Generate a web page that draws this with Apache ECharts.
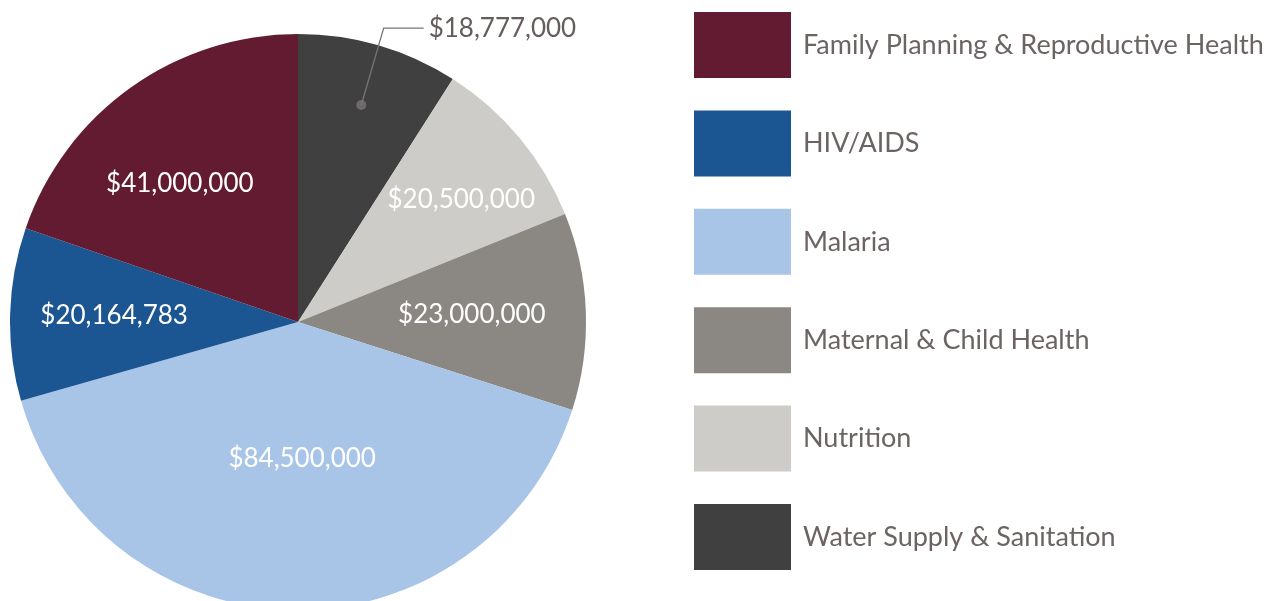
<!DOCTYPE html>
<html>
<head>
<meta charset="utf-8">
<script src="https://cdn.jsdelivr.net/npm/echarts@6/dist/echarts.min.js"></script>
<style>
  html, body { margin: 0; padding: 0; background: #ffffff; }
  #chart { width: 1274px; height: 601px; }
</style>
</head>
<body>
<div id="chart"></div>
<script>
// ---- data ----
const categories = [
  'Family Planning & Reproductive Health',
  'HIV/AIDS',
  'Malaria',
  'Maternal & Child Health',
  'Nutrition',
  'Water Supply & Sanitation'
];
const values = [41000000, 20164783, 84500000, 23000000, 20500000, 18777000];

// ---- styles ----
const colors = ['#621B31', '#1B5592', '#A8C5E7', '#8B8782', '#CDCCC8', '#404040'];
// inside-label placement: distance from centre (px) and angular nudge (deg)
const labelRadius = [182, 184, 137, 174, 204, 0];
const labelAngleNudge = [-5, 0.4, -2.7, -0.2, 2.9, 0];
const outsideLabel = [false, false, false, false, false, true];
const CX = 298, CY = 322, R = 288;
const LEADER_R = 0.785; // where the leader line of the outside label starts
const FONT = 'Lato, "Open Sans", sans-serif';
const textGray = '#6b6462';
const leaderGray = '#7a7474';

const fmt = v => '$' + v.toLocaleString('en-US');

// pie is drawn clockwise from 12 o'clock in reverse legend order
const order = categories.map((_, i) => i).reverse();
const total = values.reduce((a, b) => a + b, 0);
// mid angle (deg, clockwise from 12 o'clock) of each slice, from the data
const midAngle = {};
(function () {
  let acc = 0;
  order.forEach(i => {
    midAngle[i] = (acc + values[i] / 2) / total * 360;
    acc += values[i];
  });
})();
const outsideIdx = outsideLabel.indexOf(true);
let outsideMidValue = 0;
for (const i of order) {
  if (i === outsideIdx) { outsideMidValue += values[i] / 2; break; }
  outsideMidValue += values[i];
}

const mainData = order.map(i => ({
  name: categories[i],
  value: values[i],
  itemStyle: { color: colors[i] },
  label: { show: !outsideLabel[i] }
}));
const overlayData = order.map(i => ({
  name: categories[i],
  value: values[i],
  itemStyle: { color: 'rgba(0,0,0,0)' },
  label: { show: outsideLabel[i] },
  labelLine: { show: outsideLabel[i] }
}));

const chart = echarts.init(document.getElementById('chart'), null, { renderer: 'canvas' });
chart.setOption({
  animation: false,
  backgroundColor: '#ffffff',
  polar: { center: [CX, CY], radius: R },
  angleAxis: { type: 'value', min: 0, max: total, startAngle: 90, clockwise: true, show: false },
  radiusAxis: { type: 'value', min: 0, max: 1, show: false },
  legend: {
    orient: 'vertical',
    left: 694,
    top: 12,
    padding: 0,
    itemWidth: 97,
    itemHeight: 66,
    itemGap: 32.4,
    icon: 'rect',
    data: categories,
    selectedMode: false,
    textStyle: { fontSize: 27, color: textGray, fontFamily: FONT, padding: [0, 0, 0, 7] }
  },
  series: [
    {
      type: 'pie',
      z: 2,
      center: [CX, CY],
      radius: R,
      startAngle: 90,
      clockwise: true,
      avoidLabelOverlap: false,
      silent: true,
      emphasis: { disabled: true },
      itemStyle: { borderWidth: 0 },
      data: mainData,
      label: {
        position: 'inside',
        color: '#ffffff',
        fontSize: 26,
        fontFamily: FONT,
        formatter: p => fmt(p.value)
      },
      labelLine: { show: false },
      labelLayout: function (p) {
        const idx = order[p.dataIndex];
        const a = (midAngle[idx] + labelAngleNudge[idx]) * Math.PI / 180;
        const r = labelRadius[idx];
        return { x: CX + r * Math.sin(a), y: CY - r * Math.cos(a) };
      }
    },
    {
      type: 'pie',
      z: 5,
      zlevel: 1,
      center: [CX, CY],
      radius: R * LEADER_R,
      startAngle: 90,
      clockwise: true,
      avoidLabelOverlap: false,
      silent: true,
      emphasis: { disabled: true },
      data: overlayData,
      label: {
        position: 'outside',
        color: '#645d5b',
        fontSize: 26,
        fontFamily: FONT,
        formatter: p => fmt(p.value)
      },
      labelLine: {
        length: 80,
        length2: 40,
        z: 10,
        lineStyle: { color: leaderGray, width: 1.3 }
      }
    },
    {
      type: 'scatter',
      z: 6,
      zlevel: 1,
      coordinateSystem: 'polar',
      silent: true,
      symbol: 'circle',
      symbolSize: 10,
      itemStyle: { color: leaderGray },
      data: [[LEADER_R, outsideMidValue]]
    }
  ]
});
</script>
</body>
</html>
